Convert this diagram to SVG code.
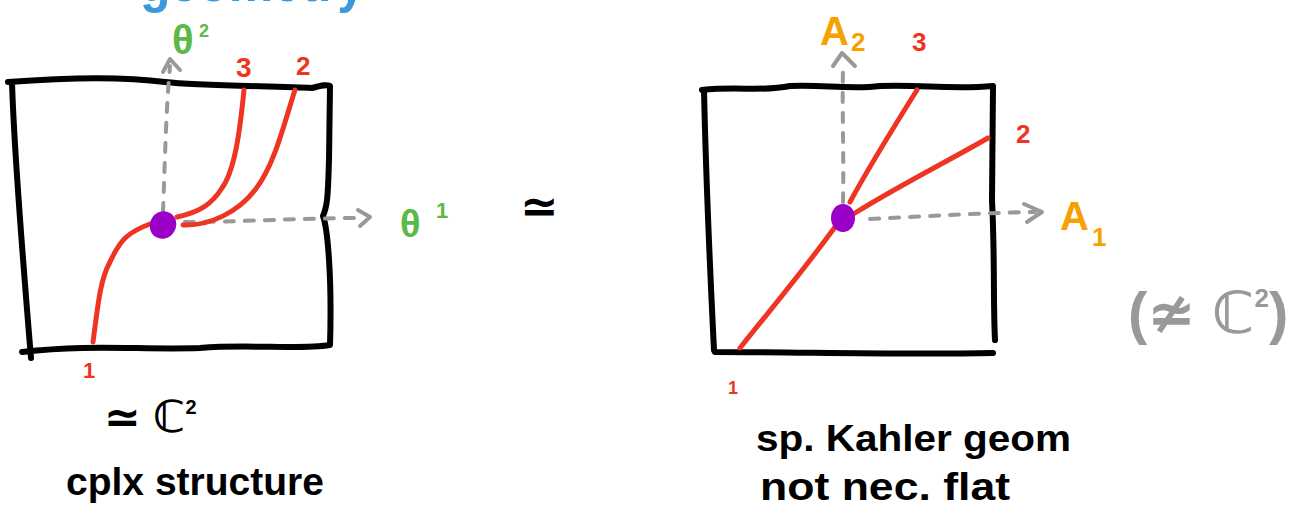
<svg xmlns="http://www.w3.org/2000/svg" width="1298" height="514" viewBox="0 0 1298 514">
<style>
.box{fill:none;stroke:#000;stroke-width:6;stroke-linecap:round;stroke-linejoin:round}
.curve{fill:none;stroke:#ee3524;stroke-width:5;stroke-linecap:round;stroke-linejoin:round}
.axis{fill:none;stroke:#999;stroke-width:4;stroke-linecap:round;stroke-dasharray:9 11}
.head{fill:none;stroke:#999;stroke-width:4;stroke-linecap:round;stroke-linejoin:round}
.dot{fill:#9a00c8}
.hand{font-family:"Liberation Sans","DejaVu Sans",sans-serif;font-weight:bold}
.blk{fill:#000}
.red{fill:#ee3524}
.grn{fill:#5bb947}
.org{fill:#f5a100}
.gry{fill:#999}
.blu{fill:#3a9ad9}
</style>

<g id="title">
  <text class="hand blu" x="140" y="1" font-size="56" textLength="225" lengthAdjust="spacingAndGlyphs" font-weight="normal">geometry</text>
</g>

<g id="left-box">
  <path class="box" d="M8,82 C60,78 120,76 165,82 C200,86 280,86 312,88 C320,86 326,84 330,86 L329,160 C328,190 328,205 323,216 C328,230 332,280 330,345 C300,350 250,344 200,348 C140,350 90,344 22,352 M12,82 C14,150 22,250 31,358"/>
</g>

<g id="right-box">
  <path class="box" d="M702,90 C740,86 760,92 790,86 C820,84 850,90 880,86 C920,84 950,90 993,86 L992,200 C995,260 993,300 995,340 M715,352 C800,352 900,355 993,353 M704,90 C706,180 710,270 714,350"/>
</g>

<g id="connectors">
  <!-- left axes -->
  <path class="axis" d="M163,212 C165,160 166,110 170,66"/>
  <path class="head" d="M163,72 L170,59 L180,70"/>
  <path class="axis" d="M185,222 C240,222 300,218 362,218"/>
  <path class="head" d="M358,210 L370,217 L360,226"/>
  <!-- left curves -->
  <path class="curve" d="M93,342 C98,305 100,280 110,262 C120,240 128,232 150,224"/>
  <path class="curve" d="M177,217 C200,212 212,204 222,188 C235,170 240,130 244,90"/>
  <path class="curve" d="M183,225 C210,226 238,212 255,190 C275,165 285,120 295,90"/>
  <!-- right axes -->
  <path class="axis" d="M843,202 C844,160 842,110 843,68"/>
  <path class="head" d="M833,66 L842,53 L855,66"/>
  <path class="axis" d="M870,219 C930,216 980,213 1035,212"/>
  <path class="head" d="M1024,204 L1042,212 L1027,222"/>
  <!-- right curves -->
  <path class="curve" d="M740,348 C770,310 800,275 835,227"/>
  <path class="curve" d="M850,202 C870,165 895,125 917,90"/>
  <path class="curve" d="M855,213 C900,185 950,160 988,138"/>
</g>

<g id="node-left">
  <ellipse class="dot" cx="163" cy="225" rx="13" ry="14" transform="rotate(30 163 225)"/>
</g>
<g id="node-right">
  <ellipse class="dot" cx="843" cy="218" rx="12" ry="14"/>
</g>

<g id="labels">
  <text class="hand grn" x="172" y="54" font-size="40">θ</text>
  <text class="hand grn" x="199" y="37" font-size="18">2</text>
  <text class="hand grn" x="400" y="237" font-size="38">θ</text>
  <text class="hand grn" x="436" y="218" font-size="22">1</text>
  <text class="hand red" x="236" y="77" font-size="28">3</text>
  <text class="hand red" x="296" y="75" font-size="26">2</text>
  <text class="hand red" x="83" y="378" font-size="22">1</text>
  <text class="hand blk" x="520" y="222" font-size="46" font-family="DejaVu Sans">≃</text>

  <text class="hand org" x="820" y="45" font-size="40">A</text>
  <text class="hand org" x="851" y="51" font-size="26">2</text>
  <text class="hand red" x="912" y="51" font-size="26">3</text>
  <text class="hand red" x="1016" y="143" font-size="26">2</text>
  <text class="hand org" x="1060" y="230" font-size="40">A</text>
  <text class="hand org" x="1092" y="246" font-size="26">1</text>
  <text class="hand red" x="728" y="394" font-size="18">1</text>

  <text class="hand gry" x="1128" y="333" font-size="58" font-weight="normal" font-family="DejaVu Sans">(≄ ℂ<tspan font-size="26" dy="-26">2</tspan><tspan dy="26">)</tspan></text>

  <text class="hand blk" x="104" y="432" font-size="44" font-family="DejaVu Sans" font-weight="normal">≃ ℂ<tspan font-size="20" dy="-18">2</tspan></text>
  <text class="hand blk" x="66" y="495" font-size="38" textLength="258" lengthAdjust="spacingAndGlyphs">cplx structure</text>

  <text class="hand blk" x="756" y="451" font-size="36" textLength="315" lengthAdjust="spacingAndGlyphs">sp. Kahler geom</text>
  <text class="hand blk" x="760" y="500" font-size="38" textLength="250" lengthAdjust="spacingAndGlyphs">not nec. flat</text>
</g>
</svg>
